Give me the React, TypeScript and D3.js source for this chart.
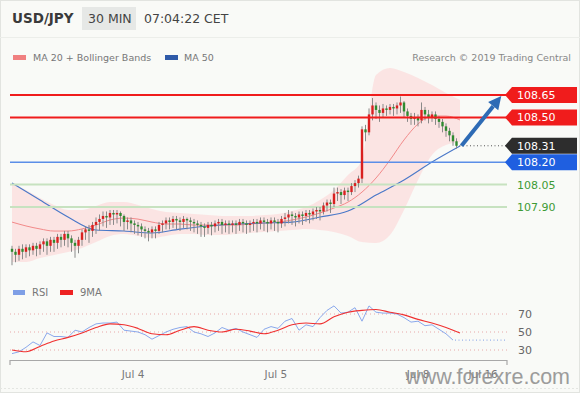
import React from "react";
import * as d3 from "d3";

const opens = [
  107.62,107.60,107.58,107.62,107.60,107.63,107.61,107.64,107.62,107.65,
  107.67,107.64,107.68,107.66,107.70,107.68,107.72,107.69,107.66,107.64,
  107.68,107.73,107.75,107.74,107.78,107.80,107.82,107.84,107.83,107.86,
  107.85,107.86,107.84,107.80,107.81,107.79,107.78,107.77,107.75,107.74,
  107.73,107.75,107.74,107.78,107.79,107.81,107.80,107.82,107.81,107.80,
  107.82,107.81,107.80,107.79,107.78,107.77,107.76,107.78,107.77,107.79,
  107.80,107.78,107.79,107.78,107.79,107.78,107.80,107.79,107.78,107.79,
  107.80,107.79,107.81,107.80,107.79,107.81,107.80,107.79,107.82,107.83,
  107.85,107.84,107.83,107.85,107.84,107.86,107.85,107.87,107.88,107.87,
  107.91,107.93,107.92,107.99,108.00,107.98,108.01,108.00,108.04,108.06,
  108.09,108.42,108.40,108.52,108.58,108.55,108.53,108.56,108.55,108.57,
  108.56,108.58,108.60,108.54,108.51,108.49,108.50,108.48,108.55,108.52,
  108.50,108.52,108.49,108.47,108.44,108.41,108.38,108.34,
];
const highs = [
  107.64,107.62,107.64,107.65,107.65,107.65,107.66,107.66,107.67,107.69,
  107.69,107.70,107.70,107.72,107.72,107.74,107.74,107.71,107.68,107.70,
  107.75,107.77,107.78,107.80,107.83,107.85,107.87,107.87,107.88,107.88,
  107.88,107.87,107.85,107.83,107.83,107.81,107.80,107.79,107.77,107.76,
  107.77,107.77,107.80,107.81,107.83,107.83,107.84,107.84,107.83,107.84,
  107.83,107.83,107.82,107.81,107.80,107.79,107.80,107.80,107.81,107.82,
  107.82,107.81,107.81,107.81,107.81,107.82,107.82,107.81,107.81,107.82,
  107.82,107.83,107.83,107.82,107.83,107.83,107.82,107.84,107.86,107.88,
  107.87,107.86,107.87,107.87,107.88,107.88,107.89,107.90,107.90,107.93,
  107.95,107.95,108.03,108.03,108.02,108.03,108.03,108.06,108.08,108.11,
  108.44,108.45,108.56,108.63,108.60,108.58,108.59,108.58,108.59,108.59,
  108.60,108.64,108.61,108.56,108.53,108.53,108.52,108.60,108.57,108.55,
  108.54,108.54,108.51,108.49,108.46,108.43,108.40,108.36,
];
const lows = [
  107.51,107.53,107.54,107.55,107.56,107.57,107.58,107.57,107.58,107.60,
  107.58,107.60,107.60,107.62,107.63,107.64,107.63,107.60,107.56,107.59,
  107.64,107.68,107.66,107.70,107.72,107.74,107.77,107.76,107.78,107.78,
  107.79,107.77,107.74,107.75,107.73,107.72,107.71,107.70,107.69,107.67,
  107.69,107.69,107.72,107.73,107.75,107.75,107.76,107.75,107.74,107.76,
  107.75,107.74,107.73,107.72,107.70,107.70,107.72,107.71,107.73,107.74,
  107.72,107.73,107.72,107.73,107.72,107.74,107.73,107.72,107.73,107.74,
  107.73,107.75,107.74,107.73,107.75,107.74,107.73,107.76,107.77,107.79,
  107.78,107.77,107.79,107.78,107.80,107.79,107.81,107.82,107.81,107.85,
  107.87,107.86,107.90,107.94,107.92,107.95,107.94,107.98,108.00,108.03,
  108.06,108.34,108.38,108.48,108.49,108.47,108.50,108.51,108.52,108.51,
  108.52,108.53,108.50,108.47,108.45,108.45,108.44,108.46,108.48,108.46,
  108.47,108.45,108.43,108.40,108.37,108.34,108.31,108.29,
];
const closes = [
  107.60,107.58,107.62,107.60,107.63,107.61,107.64,107.62,107.65,107.67,
  107.64,107.68,107.66,107.70,107.68,107.72,107.69,107.66,107.64,107.68,
  107.73,107.75,107.74,107.78,107.80,107.82,107.84,107.83,107.86,107.85,
  107.86,107.84,107.80,107.81,107.79,107.78,107.77,107.75,107.74,107.73,
  107.75,107.74,107.78,107.79,107.81,107.80,107.82,107.81,107.80,107.82,
  107.81,107.80,107.79,107.78,107.77,107.76,107.78,107.77,107.79,107.80,
  107.78,107.79,107.78,107.79,107.78,107.80,107.79,107.78,107.79,107.80,
  107.79,107.81,107.80,107.79,107.81,107.80,107.79,107.82,107.83,107.85,
  107.84,107.83,107.85,107.84,107.86,107.85,107.87,107.88,107.87,107.91,
  107.93,107.92,107.99,108.00,107.98,108.01,108.00,108.04,108.06,108.09,
  108.42,108.40,108.52,108.58,108.55,108.53,108.56,108.55,108.57,108.56,
  108.58,108.60,108.54,108.51,108.49,108.50,108.48,108.55,108.52,108.50,
  108.52,108.49,108.47,108.44,108.41,108.38,108.34,108.31,
];

// every 4 candles
const ma20 = [
  107.799,107.773,107.753,107.739,107.739,107.753,107.779,107.813,107.826,107.819,
  107.799,107.786,107.786,107.779,107.779,107.779,107.779,107.786,107.793,107.799,
  107.813,107.833,107.860,107.893,107.933,108.000,108.094,108.215,108.349,108.456,
  108.509,108.509,108.483,
];
const bbUpper = [
  108.061,108.014,107.960,107.913,107.880,107.880,107.907,107.933,107.933,107.913,
  107.886,107.866,107.860,107.853,107.846,107.840,107.840,107.840,107.846,107.853,
  107.873,107.900,107.947,108.014,108.114,108.215,108.784,108.831,108.804,108.764,
  108.717,108.663,108.617,
];
const bbLower = [
  107.531,107.531,107.558,107.578,107.598,107.625,107.665,107.706,107.719,107.706,
  107.692,107.706,107.719,107.719,107.712,107.712,107.719,107.726,107.732,107.739,
  107.746,107.753,107.746,107.732,107.706,107.665,107.659,107.712,107.880,108.081,
  108.248,108.315,108.335,
];
// every 8 candles
const ma50 = [
  108.061,107.947,107.833,107.746,107.739,107.726,107.752,107.773,107.786,107.793,
  107.799,107.833,107.873,107.980,108.081,108.201,108.308,
];
// RSI every 2 candles
const rsi = [
  26,28,33,39,35,49,45,45,44,52,50,55,59,60,60,61,52,51,50,47,
  42,46,50,53,55,56,50,48,45,49,55,52,54,50,47,44,53,56,54,62,
  65,52,58,56,66,74,79,71,72,77,62,79,72,71,71,70,66,61,62,57,
  58,53,48,41,
];
// 9MA every 4 candles
const rsiMa = [
  30,28,34,40,44,49,55,59,58,54,48,47,52,56,52,50,53,51,48,52,
  58,60,59,67,72,74,75,72,69,64,60,55,49,
];
const rsiLevels = [70, 50, 30];

const resistances = [108.65, 108.5];
const supports = [108.2];
const minorSupports = [108.05, 107.9];
const lastPrice = 108.31;
const targetPrice = 108.65;
const tickLabels = ["Jul 4", "Jul 5", "Jul 8", "Jul 16"];
const tickIndex = [34.6, 75.4, 116, 134.6];

const FONT = "'DejaVu Sans', Verdana, sans-serif";

export default function App() {
  const x = d3.scaleLinear().domain([0, 127]).range([12, 456.5]);
  const y = d3.scaleLinear().domain([107.9, 108.65]).range([207, 95]);
  const yr = d3.scaleLinear().domain([30, 70]).range([350, 314]);
  const L = 10, R = 507;

  const band = d3
    .area<number>()
    .x((_, i) => x(i * 4))
    .y0((_, i) => y(bbLower[i]))
    .y1((d) => y(d))
    .curve(d3.curveMonotoneX)(bbUpper) as string;
  const ma20Path = d3
    .line<number>()
    .x((_, i) => x(i * 4))
    .y((d) => y(d))
    .curve(d3.curveMonotoneX)(ma20) as string;
  const ma50Path = d3
    .line<number>()
    .x((_, i) => x(i * 8))
    .y((d) => y(d))
    .curve(d3.curveMonotoneX)(ma50) as string;
  const rsiPath = d3
    .line<number>()
    .x((_, i) => x(i * 2))
    .y((d) => yr(d))(rsi) as string;
  const rsiMaPath = d3
    .line<number>()
    .x((_, i) => x(i * 4))
    .y((d) => yr(d))
    .curve(d3.curveMonotoneX)(rsiMa) as string;

  const tag = (cy: number) =>
    `M${R - 2},${cy} L${R + 5},${cy - 8} L577,${cy - 8} L577,${cy + 8} L${R + 5},${cy + 8} Z`;

  const ax0 = x(127) + 5, ay0 = y(lastPrice);
  const ax1 = x(139.8), ay1 = y(targetPrice) + 1;
  const ang = Math.atan2(ay1 - ay0, ax1 - ax0);
  const hl = 13, hw = 6.5;
  const bx = ax1 - hl * Math.cos(ang), by = ay1 - hl * Math.sin(ang);
  const head = `M${ax1},${ay1} L${bx + hw * Math.sin(ang)},${by - hw * Math.cos(ang)} L${bx - hw * Math.sin(ang)},${by + hw * Math.cos(ang)} Z`;

  const lastRsi = rsi[rsi.length - 1];

  return (
    <svg
      width={580}
      height={393}
      style={{ position: "fixed", left: 0, top: 0, fontFamily: FONT }}
    >
      <rect x={0} y={0} width={580} height={393} fill="#f9faf7" />
      <rect x={0.5} y={0.5} width={579} height={392} fill="none" stroke="#e2e4e0" />
      <text x={12} y={23} fontSize={13.5} fontWeight="bold" fill="#3a3a3a">USD/JPY</text>
      <rect x={82} y={7} width={54} height={23} fill="#e6e8e6" />
      <text x={88} y={23} fontSize={12.5} fill="#444">30 MIN</text>
      <text x={144} y={23} fontSize={12.5} fill="#444">07:04:22 CET</text>
      <line x1={0} y1={37.5} x2={580} y2={37.5} stroke="#eceeea" />

      <rect x={13} y={55} width={13} height={5} fill="#f08080" />
      <text x={33} y={61} fontSize={9.5} fill="#777">MA 20 + Bollinger Bands</text>
      <rect x={165} y={55} width={13} height={5} fill="#2f5aa8" />
      <text x={184} y={61} fontSize={9.5} fill="#777">MA 50</text>
      <text x={571} y={61} fontSize={9.5} fill="#888" textAnchor="end">Research © 2019 Trading Central</text>

      <path d={band} fill="#fcdada" opacity={0.7} />
      <path d={ma20Path} fill="none" stroke="#f28a8a" strokeWidth={1} />
      <path d={ma50Path} fill="none" stroke="#4a78c8" strokeWidth={1.1} />

      {minorSupports.map((p) => (
        <line key={p} x1={L} x2={R} y1={y(p)} y2={y(p)} stroke="#c7e2c0" strokeWidth={2} />
      ))}
      {supports.map((p) => (
        <line key={p} x1={L} x2={R} y1={y(p)} y2={y(p)} stroke="#5b8ee8" strokeWidth={1.5} />
      ))}

      {closes.map((c, i) => {
        const o = opens[i];
        const up = c >= o;
        const top = y(Math.max(o, c));
        const bot = y(Math.min(o, c));
        return (
          <g key={i}>
            <line x1={x(i)} x2={x(i)} y1={y(highs[i])} y2={y(lows[i])} stroke="#8a8a8a" strokeWidth={1} />
            <rect
              x={x(i) - 1.2}
              y={top}
              width={2.4}
              height={Math.max(1, bot - top)}
              fill={up ? "#d92020" : "#2f8a2f"}
            />
          </g>
        );
      })}

      {resistances.map((p) => (
        <line key={p} x1={L} x2={R} y1={y(p)} y2={y(p)} stroke="#f01c1c" strokeWidth={2} />
      ))}
      <line x1={x(127) + 3} x2={R} y1={y(lastPrice)} y2={y(lastPrice)} stroke="#555" strokeWidth={1} strokeDasharray="1,2.5" />

      <line x1={ax0} y1={ay0} x2={bx} y2={by} stroke="#2e6bb5" strokeWidth={4} />
      <path d={head} fill="#2e6bb5" />

      {resistances.map((p) => (
        <g key={p}>
          <path d={tag(y(p))} fill="#f01c1c" />
          <text x={517} y={y(p) + 4} fontSize={11} fill="#fff">{p.toFixed(2)}</text>
        </g>
      ))}
      <path d={tag(y(lastPrice))} fill="#2d2d2d" />
      <text x={517} y={y(lastPrice) + 4} fontSize={11} fill="#fff">{lastPrice.toFixed(2)}</text>
      {supports.map((p) => (
        <g key={p}>
          <path d={tag(y(p))} fill="#1f5fe0" />
          <text x={517} y={y(p) + 4} fontSize={11} fill="#fff">{p.toFixed(2)}</text>
        </g>
      ))}
      {minorSupports.map((p) => (
        <text key={p} x={517} y={y(p) + 4} fontSize={11} fill="#3d9b35">{p.toFixed(2)}</text>
      ))}

      <rect x={13} y={290} width={12} height={5} fill="#7f9fe6" />
      <text x={32} y={296} fontSize={10} fill="#777">RSI</text>
      <rect x={60} y={290} width={13} height={5} fill="#ee2222" />
      <text x={80} y={296} fontSize={10} fill="#777">9MA</text>
      {rsiLevels.map((v) => (
        <g key={v}>
          <line x1={L} x2={R} y1={yr(v)} y2={yr(v)} stroke="#e8a8a8" strokeWidth={1} strokeDasharray="1,3" />
          <text x={518} y={yr(v) + 4} fontSize={11} fill="#666">{v}</text>
        </g>
      ))}
      <line x1={x(126) + 2} x2={R} y1={yr(lastRsi)} y2={yr(lastRsi)} stroke="#7f9fe6" strokeWidth={1} strokeDasharray="1,2.5" />
      <path d={rsiPath} fill="none" stroke="#8aa8ec" strokeWidth={1} />
      <path d={rsiMaPath} fill="none" stroke="#f03030" strokeWidth={1.1} />

      <path d={`M${L},365 L${L},360.5 L${R},360.5 L${R},365`} fill="none" stroke="#a8a8a8" strokeWidth={1.2} />
      {tickLabels.map((t, i) => (
        <text key={t} x={x(tickIndex[i])} y={378} fontSize={10.5} fill="#777" textAnchor="middle">{t}</text>
      ))}
      <line x1={0} y1={388.5} x2={580} y2={388.5} stroke="#e4e6e2" strokeDasharray="2,2" />

      <text x={570} y={384} fontSize={21.5} fill="#8c8c8c" opacity={0.85} textAnchor="end" fontFamily="'Liberation Sans', Arial, sans-serif">www.forexre.com</text>
    </svg>
  );
}
